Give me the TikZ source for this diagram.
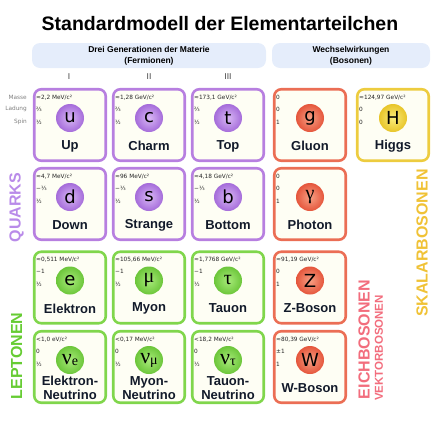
\documentclass[tikz,border=0pt]{standalone}
\usepackage{fontspec}
\setmainfont{Liberation Sans}
\newfontfamily\infoFont{DejaVu Sans}
\newfontfamily\symFont{DejaVu Sans}
\newfontfamily\greekFont{Liberation Serif}

\definecolor{quarkLine}{HTML}{B77FE0}
\definecolor{quarkIn}{HTML}{D9B8F5}
\definecolor{quarkOut}{HTML}{A56CDA}
\definecolor{leptonLine}{HTML}{80D64C}
\definecolor{leptonIn}{HTML}{A8EA7A}
\definecolor{leptonOut}{HTML}{6CC63A}
\definecolor{gaugeLine}{HTML}{EB6E55}
\definecolor{gaugeIn}{HTML}{F7A084}
\definecolor{gaugeOut}{HTML}{E5563C}
\definecolor{higgsLine}{HTML}{EDCC3F}
\definecolor{higgsIn}{HTML}{FAEC7A}
\definecolor{higgsOut}{HTML}{E8C52A}
\definecolor{headerFill}{HTML}{E5EDFB}
\definecolor{cardFill}{HTML}{FEFEF4}
\definecolor{nameInk}{HTML}{121A2A}
\definecolor{quarkLabel}{HTML}{B98BE9}
\definecolor{leptonLabel}{HTML}{66CC33}
\definecolor{gaugeLabel}{HTML}{F26D7D}
\definecolor{higgsLabel}{HTML}{F0C236}

\begin{document}
\begin{tikzpicture}[x=1pt,y=-1pt,%%
  cardStyle/.style={draw=#1Line,line width=2.6pt,rounded corners=7pt,fill=cardFill,
    minimum width=71.5pt,minimum height=71.5pt,inner sep=0pt},%%
  symbolStyle/.style={circle,minimum size=28pt,inner sep=0pt,inner color=#1In,outer color=#1Out,
    font=\symFont\fontsize{18}{18}\selectfont},%%
  nameStyle/.style={font=\bfseries\fontsize{13}{13.5}\selectfont,text=nameInk,align=center,inner sep=0pt},%%
  infoStyle/.style={anchor=west,inner sep=0pt,font=\infoFont\fontsize{5.8}{6}\selectfont,text=black!85},%%
  rowLabel/.style={anchor=east,inner sep=0pt,font=\infoFont\fontsize{5.8}{6}\selectfont,text=black!50},%%
  headerStyle/.style={fill=headerFill,rounded corners=8pt,align=center,inner sep=0pt,
    font=\bfseries\fontsize{8.5}{11}\selectfont},%%
  groupLabel/.style={rotate=90,inner sep=0pt,font=\bfseries\fontsize{16}{16}\selectfont,text=#1}
]
\useasboundingbox (0,0) rectangle (440,421);
%%
%% Title and headers.
\node[anchor=base,font=\bfseries\fontsize{19.5}{20}\selectfont] (title) at (220,30) {Standardmodell der Elementarteilchen};
\node[headerStyle,minimum width=234pt,minimum height=25pt] (fermions) at (149,55.5) {Drei Generationen der Materie\\(Fermionen)};
\node[headerStyle,minimum width=158pt,minimum height=25pt] (bosons) at (351,55.5) {Wechselwirkungen\\(Bosonen)};
\node[font=\fontsize{8.5}{9}\selectfont,text=black!75] (genI) at (69,77) {I};
\node[font=\fontsize{8.5}{9}\selectfont,text=black!75] (genII) at (149,77) {II};
\node[font=\fontsize{8.5}{9}\selectfont,text=black!75] (genIII) at (228,77) {III};
%%
%% Row labels.
\node[rowLabel] (massLabel) at (27,97.3) {Masse};
\node[rowLabel] (chargeLabel) at (27,109.3) {Ladung};
\node[rowLabel] (spinLabel) at (27,122.3) {Spin};
%%
%% Particle cards.
\foreach \id/\cx/\cy/\kind/\sym/\nm/\ms/\chg/\spn in {
  up/70/125/quark/u/Up/{≈2,2 MeV/c²}/⅔/½,
  charm/149/125/quark/c/Charm/{≈1,28 GeV/c²}/⅔/½,
  top/228/125/quark/t/Top/{≈173,1 GeV/c²}/⅔/½,
  gluon/310/125/gauge/g/Gluon/0/0/1,
  higgs/393/125/higgs/H/Higgs/{≈124,97 GeV/c²}/0/0,
  down/70/204/quark/d/Down/{≈4,7 MeV/c²}/−⅓/½,
  strange/149/204/quark/s/Strange/{≈96 MeV/c²}/−⅓/½,
  bottom/228/204/quark/b/Bottom/{≈4,18 GeV/c²}/−⅓/½,
  photon/310/204/gauge/{\greekFont\fontsize{20}{20}\selectfont γ}/Photon/0/0/1,
  electron/70/287.5/lepton/e/Elektron/{≈0,511 MeV/c²}/−1/½,
  muon/149/287.5/lepton/{\greekFont\fontsize{20}{20}\selectfont μ}/Myon/{≈105,66 MeV/c²}/−1/½,
  tau/228/287.5/lepton/{\greekFont\fontsize{20}{20}\selectfont τ}/Tauon/{≈1,7768 GeV/c²}/−1/½,
  zboson/310/287.5/gauge/Z/Z-Boson/{≈91,19 GeV/c²}/0/1,
  nue/70/367/lepton/{\greekFont\fontsize{22}{22}\selectfont ν\raisebox{-1pt}{\fontsize{14}{14}\selectfont e}}/{Elektron-\\Neutrino}/{<1,0 eV/c²}/0/½,
  numu/149/367/lepton/{\greekFont\fontsize{22}{22}\selectfont ν\raisebox{-1pt}{\fontsize{14}{14}\selectfont μ}}/{Myon-\\Neutrino}/{<0,17 MeV/c²}/0/½,
  nutau/228/367/lepton/{\greekFont\fontsize{22}{22}\selectfont ν\raisebox{-1pt}{\fontsize{14}{14}\selectfont τ}}/{Tauon-\\Neutrino}/{<18,2 MeV/c²}/0/½,
  wboson/310/367/gauge/W/W-Boson/{≈80,39 GeV/c²}/±1/1}{
  \node[cardStyle=\kind] (\id) at (\cx,\cy) {};
  \node[symbolStyle=\kind] (\id-sym) at ([yshift=7pt]\id.center) {\sym};
  \node[nameStyle] (\id-name) at ([yshift=-21pt]\id.center) {\nm};
  \node[infoStyle] (\id-mass) at ([xshift=-34pt,yshift=27.7pt]\id.center) {\ms};
  \node[infoStyle] (\id-charge) at ([xshift=-34pt,yshift=15.7pt]\id.center) {\chg};
  \node[infoStyle] (\id-spin) at ([xshift=-34pt,yshift=2.7pt]\id.center) {\spn};
}
%%
%% Group labels.
\node[groupLabel=quarkLabel] (quarks) at (16.5,207.5) {QUARKS};
\node[groupLabel=leptonLabel] (leptons) at (16.5,356) {LEPTONEN};
\node[groupLabel=gaugeLabel] (gauge) at (364,339.5) {EICHBOSONEN};
\node[groupLabel=gaugeLabel,font=\bfseries\fontsize{11.5}{12}\selectfont] (vector) at (379,348) {VEKTORBOSONEN};
\node[groupLabel=higgsLabel] (scalar) at (422,243) {SKALARBOSONEN};
\end{tikzpicture}
\end{document}
